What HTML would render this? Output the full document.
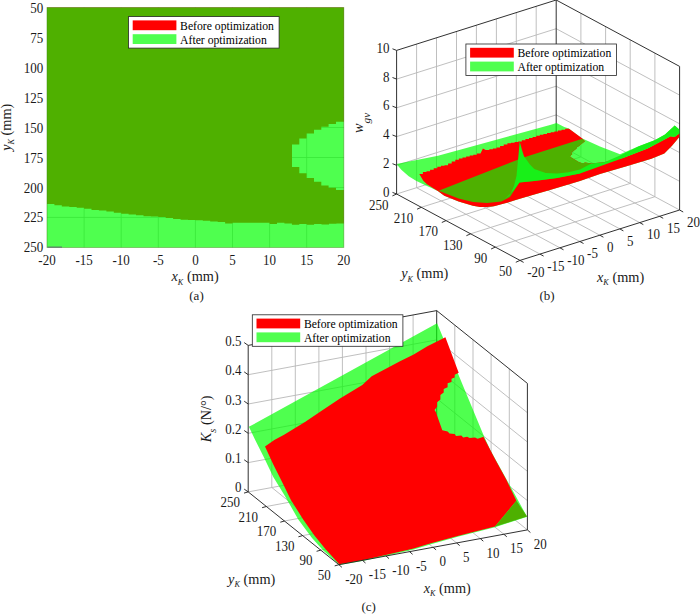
<!DOCTYPE html>
<html><head><meta charset="utf-8"><style>html,body{margin:0;padding:0;background:#fff;width:700px;height:614px;overflow:hidden}svg{display:block}</style></head>
<body><svg width="700" height="614" viewBox="0 0 700 614">
<rect width="700" height="614" fill="#fff"/>
<path d="M84.1,7.6V247.4M121.2,7.6V247.4M158.3,7.6V247.4M195.4,7.6V247.4M232.5,7.6V247.4M269.6,7.6V247.4M306.7,7.6V247.4M47.0,37.6H343.8M47.0,67.5H343.8M47.0,97.5H343.8M47.0,127.5H343.8M47.0,157.5H343.8M47.0,187.5H343.8M47.0,217.4H343.8" stroke="#b4b4b4" stroke-width="0.8" fill="none"/>
<polygon points="47.0,7.6 343.8,7.6 343.8,121.7 336.0,121.7 336.0,123.9 328.6,123.9 328.6,126.8 321.3,126.8 321.3,129.8 314.0,129.8 314.0,133.4 306.6,133.4 306.6,138.6 299.3,138.6 299.3,144.4 292.0,144.4 292.0,167.1 299.3,167.1 299.3,173.3 306.6,173.3 306.6,178.1 314.0,178.1 314.0,181.8 321.3,181.8 321.3,185.5 328.6,185.5 328.6,187.7 336.0,187.7 336.0,189.9 343.8,189.9 343.8,223.6 336.4,223.6 336.4,223.8 329.0,223.8 329.0,224.5 321.5,224.5 321.5,224.0 314.1,224.0 314.1,224.8 306.7,224.8 306.7,224.0 299.3,224.0 299.3,224.8 291.9,224.8 291.9,223.5 284.4,223.5 284.4,222.8 277.0,222.8 277.0,224.0 269.6,224.0 269.6,222.8 262.2,222.8 262.2,222.8 254.8,222.8 254.8,222.8 247.3,222.8 247.3,222.8 239.9,222.8 239.9,222.8 232.5,222.8 232.5,223.4 225.1,223.4 225.1,222.0 217.7,222.0 217.7,221.4 210.2,221.4 210.2,220.8 202.8,220.8 202.8,220.3 195.4,220.3 195.4,220.0 188.0,220.0 188.0,219.8 180.6,219.8 180.6,219.0 173.1,219.0 173.1,218.0 165.7,218.0 165.7,217.0 158.3,217.0 158.3,216.6 150.9,216.6 150.9,216.2 143.5,216.2 143.5,215.2 136.0,215.2 136.0,214.5 128.6,214.5 128.6,213.8 121.2,213.8 121.2,212.7 113.8,212.7 113.8,211.6 106.4,211.6 106.4,210.4 98.9,210.4 98.9,209.9 91.5,209.9 91.5,208.7 84.1,208.7 84.1,207.8 76.7,207.8 76.7,207.0 69.3,207.0 69.3,206.4 61.8,206.4 61.8,205.3 54.4,205.3 54.4,204.1 47.0,204.1" fill="#ff0000"/>
<rect x="47.0" y="7.6" width="296.8" height="239.8" fill="#00ff00" fill-opacity="0.69"/>
<rect x="47.0" y="7.6" width="296.8" height="239.8" fill="none" stroke="#3c8c14" stroke-opacity="0.6" stroke-width="0.8"/>
<path d="M47.5,247.1H62" stroke="#605878" stroke-width="0.9"/>
<text transform="translate(43.2,12.6) scale(1,1.08)" font-family="Liberation Serif" font-size="13" text-anchor="end" fill="#1a1a1a">50</text>
<text transform="translate(43.2,42.6) scale(1,1.08)" font-family="Liberation Serif" font-size="13" text-anchor="end" fill="#1a1a1a">75</text>
<text transform="translate(43.2,72.5) scale(1,1.08)" font-family="Liberation Serif" font-size="13" text-anchor="end" fill="#1a1a1a">100</text>
<text transform="translate(43.2,102.5) scale(1,1.08)" font-family="Liberation Serif" font-size="13" text-anchor="end" fill="#1a1a1a">125</text>
<text transform="translate(43.2,132.5) scale(1,1.08)" font-family="Liberation Serif" font-size="13" text-anchor="end" fill="#1a1a1a">150</text>
<text transform="translate(43.2,162.5) scale(1,1.08)" font-family="Liberation Serif" font-size="13" text-anchor="end" fill="#1a1a1a">175</text>
<text transform="translate(43.2,192.5) scale(1,1.08)" font-family="Liberation Serif" font-size="13" text-anchor="end" fill="#1a1a1a">200</text>
<text transform="translate(43.2,222.4) scale(1,1.08)" font-family="Liberation Serif" font-size="13" text-anchor="end" fill="#1a1a1a">225</text>
<text transform="translate(43.2,252.4) scale(1,1.08)" font-family="Liberation Serif" font-size="13" text-anchor="end" fill="#1a1a1a">250</text>
<text transform="translate(47.0,264.6) scale(1,1.08)" font-family="Liberation Serif" font-size="13" text-anchor="middle" fill="#1a1a1a">-20</text>
<text transform="translate(84.1,264.6) scale(1,1.08)" font-family="Liberation Serif" font-size="13" text-anchor="middle" fill="#1a1a1a">-15</text>
<text transform="translate(121.2,264.6) scale(1,1.08)" font-family="Liberation Serif" font-size="13" text-anchor="middle" fill="#1a1a1a">-10</text>
<text transform="translate(158.3,264.6) scale(1,1.08)" font-family="Liberation Serif" font-size="13" text-anchor="middle" fill="#1a1a1a">-5</text>
<text transform="translate(195.4,264.6) scale(1,1.08)" font-family="Liberation Serif" font-size="13" text-anchor="middle" fill="#1a1a1a">0</text>
<text transform="translate(232.5,264.6) scale(1,1.08)" font-family="Liberation Serif" font-size="13" text-anchor="middle" fill="#1a1a1a">5</text>
<text transform="translate(269.6,264.6) scale(1,1.08)" font-family="Liberation Serif" font-size="13" text-anchor="middle" fill="#1a1a1a">10</text>
<text transform="translate(306.7,264.6) scale(1,1.08)" font-family="Liberation Serif" font-size="13" text-anchor="middle" fill="#1a1a1a">15</text>
<text transform="translate(343.8,264.6) scale(1,1.08)" font-family="Liberation Serif" font-size="13" text-anchor="middle" fill="#1a1a1a">20</text>
<text transform="translate(171.5,281)" font-family="Liberation Serif" font-size="14.3" fill="#1a1a1a"><tspan font-style="italic">x</tspan><tspan font-style="italic" font-size="8.2" dy="3.6">K</tspan><tspan dy="-3.6"> (mm)</tspan></text>
<text transform="translate(10.8,150.8) rotate(-90)" font-family="Liberation Serif" font-size="14.3" fill="#1a1a1a"><tspan font-style="italic">y</tspan><tspan font-style="italic" font-size="8.2" dy="3.6">K</tspan><tspan dy="-3.6"> (mm)</tspan></text>
<text x="196.5" y="299.5" font-family="Liberation Serif" font-size="13" text-anchor="middle" fill="#1a1a1a">(a)</text>
<rect x="128.5" y="16.6" width="150.6" height="31.5" fill="#fff" stroke="#262626" stroke-width="0.8"/>
<rect x="132.7" y="20.4" width="43.7" height="9.8" fill="#ff0000"/>
<rect x="132.7" y="34.2" width="43.7" height="9.8" fill="#00ff00" fill-opacity="0.69"/>
<text x="180.1" y="30.0" font-family="Liberation Serif" font-size="11.7" fill="#000">Before optimization</text>
<text x="180.1" y="43.7" font-family="Liberation Serif" font-size="11.7" fill="#000">After optimization</text>
<path d="M416.6,187.7L540.0,254.1M416.6,187.7L416.6,44.1M436.5,181.4L559.9,247.8M436.5,181.4L436.5,37.8M456.5,175.1L579.9,241.5M456.5,175.1L456.5,31.5M476.4,168.8L599.8,235.2M476.4,168.8L476.4,25.2M496.4,162.5L619.8,228.9M496.4,162.5L496.4,18.9M516.3,156.2L639.7,222.6M516.3,156.2L516.3,12.6M536.2,149.9L659.6,216.3M536.2,149.9L536.2,6.3M495.3,247.1L654.9,196.7M654.9,196.7L654.9,53.1M470.6,233.8L630.2,183.4M630.2,183.4L630.2,39.8M446.0,220.6L605.6,170.2M605.6,170.2L605.6,26.6M421.3,207.3L580.9,156.9M580.9,156.9L580.9,13.3M396.6,194.0L556.2,143.6M556.2,143.6L679.6,210.0M396.6,165.3L556.2,114.9M556.2,114.9L679.6,181.3M396.6,136.6L556.2,86.2M556.2,86.2L679.6,152.6M396.6,107.8L556.2,57.4M556.2,57.4L679.6,123.8M396.6,79.1L556.2,28.7M556.2,28.7L679.6,95.1" stroke="#b8b8b8" stroke-width="0.9" fill="none"/>
<path d="M396.6,50.4L556.2,0.0L679.6,66.4M556.2,143.6L556.2,0.0M679.6,210.0L679.6,66.4" stroke="#262626" stroke-width="0.95" fill="none"/>
<rect x="465.9" y="44.0" width="150.6" height="31.5" fill="#fff" stroke="#262626" stroke-width="0.8"/>
<rect x="470.1" y="47.8" width="43.7" height="9.8" fill="#ff0000"/>
<rect x="470.1" y="61.6" width="43.7" height="9.8" fill="#00ff00" fill-opacity="0.69"/>
<text x="517.5" y="57.4" font-family="Liberation Serif" font-size="11.7" fill="#000">Before optimization</text>
<text x="517.5" y="71.1" font-family="Liberation Serif" font-size="11.7" fill="#000">After optimization</text>
<polygon points="396.5,164.0 438.0,155.8 470.0,147.0 550.0,125.0 556.5,123.0 564.3,126.9 568.7,128.4 581.3,138.0 600.0,146.5 620.0,154.3 638.2,146.5 655.2,140.0 665.0,134.5 674.7,125.6 679.3,129.5 679.3,137.0 676.0,141.0 672.0,145.8 664.3,153.6 651.4,158.7 625.7,166.4 600.0,174.1 580.0,181.0 550.0,190.0 530.0,195.7 515.7,200.0 508.0,202.4 501.4,204.3 494.0,206.3 487.1,207.1 480.0,206.9 472.9,205.7 458.6,201.4 444.3,195.7 438.2,191.2 432.0,188.3 424.8,185.1 416.0,180.7 408.7,176.3 401.3,169.7" fill="#00ff00" fill-opacity="0.69"/>
<polygon points="419.3,173.9 422.9,173.9 422.9,172.1 426.5,172.1 426.5,171.2 430.1,171.2 430.1,169.8 433.7,169.8 433.7,168.2 437.3,168.2 437.3,166.7 440.9,166.7 440.9,165.8 444.5,165.8 444.5,165.2 448.1,165.2 448.1,163.4 451.7,163.4 451.7,161.4 455.3,161.4 455.3,159.8 458.9,159.8 458.9,158.6 462.5,158.6 462.5,157.4 466.1,157.4 466.1,156.4 469.7,156.4 469.7,155.6 473.3,155.6 473.3,154.7 476.9,154.7 476.9,153.6 480.5,153.6 482.9,148.6 485.7,149.9 489.3,149.9 489.3,149.2 492.9,149.2 492.9,148.5 496.5,148.5 496.5,147.5 500.1,147.5 500.1,146.1 503.7,146.1 503.7,144.6 507.4,144.6 507.4,143.3 511.0,143.3 511.0,142.7 514.6,142.7 514.6,142.1 518.2,142.1 518.2,141.4 521.8,141.4 521.8,140.3 525.4,140.3 525.4,139.1 529.0,139.1 529.0,138.0 532.6,138.0 532.6,136.9 536.2,136.9 536.2,135.8 539.8,135.8 539.8,134.8 543.4,134.8 543.4,133.9 547.0,133.9 547.0,133.1 550.7,133.1 550.7,132.2 554.3,132.2 554.3,131.4 557.9,131.4 557.9,130.5 561.5,130.5 561.5,129.7 565.1,129.7 565.1,128.8 568.7,128.8 568.7,128.4 582.0,138.2 585.0,141.3 582.1,143.6 580.4,144.7 579.3,145.9 577.3,147.0 576.4,148.7 574.7,149.9 573.0,151.6 571.3,152.7 572.4,153.9 570.7,155.6 570.1,156.7 578.7,161.9 581.6,163.0 583.9,163.0 585.0,162.4 591.3,163.6 605.0,162.0 623.1,158.1 647.6,148.4 670.7,136.2 674.5,136.9 679.3,133.6 679.3,137.0 676.0,141.0 672.0,145.8 664.3,153.6 651.4,158.7 625.7,166.4 600.0,174.1 580.0,181.0 550.0,190.0 530.0,195.7 515.7,200.0 508.0,202.4 501.4,204.3 494.0,206.3 487.1,207.1 480.0,206.9 472.9,205.7 458.6,201.4 444.3,195.7 438.2,191.2 432.9,188.0 427.0,184.3 423.3,180.7" fill="#ff0000"/>
<polygon points="438.6,190.7 517.1,159.9 525.1,157.0 580.0,139.6 582.0,138.9 585.0,141.3 582.1,143.6 580.4,144.7 579.3,145.9 577.3,147.0 576.4,148.7 574.7,149.9 573.0,151.6 571.3,152.7 572.4,153.9 570.7,155.6 570.1,156.7 578.7,161.9 581.6,163.0 583.9,163.0 585.0,162.4 591.3,163.6 580.0,173.4 557.1,178.0 534.3,180.9 519.4,182.6 514.9,189.4 510.0,197.1 501.4,201.4 487.1,202.9 472.9,202.1 458.6,198.6" fill="#4eb000"/>
<polygon points="519.7,141.4 522.0,150.0 524.0,156.3 529.7,164.3 534.3,168.9 545.7,172.9 557.1,173.6 568.6,172.2 580.0,169.5 591.3,163.6 605.0,162.0 620.0,155.5 638.2,146.5 655.2,140.0 665.0,134.5 674.7,125.6 679.3,129.5 679.3,133.6 674.5,136.9 670.7,136.2 647.6,148.4 623.1,158.1 580.0,173.4 557.1,178.0 534.3,180.9 519.4,182.6 514.0,190.0 508.0,196.0 504.6,199.5 510.0,195.0 514.0,186.0 516.5,176.0 517.5,165.0 518.5,155.0" fill="#18f018"/>
<path d="M679.6,210.0L520.0,260.4L396.6,194.0L396.6,50.4" stroke="#262626" stroke-width="0.95" fill="none" stroke-linejoin="round"/>
<path d="M396.6,194.0l-4.1,-1.6M396.6,165.3l-4.1,-1.6M396.6,136.6l-4.1,-1.6M396.6,107.8l-4.1,-1.6M396.6,79.1l-4.1,-1.6M396.6,50.4l-4.1,-1.6M520.0,260.4l-4.2,1.9M495.3,247.1l-4.2,1.9M470.6,233.8l-4.2,1.9M446.0,220.6l-4.2,1.9M421.3,207.3l-4.2,1.9M396.6,194.0l-4.2,1.9M520.0,260.4l3.6,2.0M540.0,254.1l3.6,2.0M559.9,247.8l3.6,2.0M579.9,241.5l3.6,2.0M599.8,235.2l3.6,2.0M619.8,228.9l3.6,2.0M639.7,222.6l3.6,2.0M659.6,216.3l3.6,2.0M679.6,210.0l3.6,2.0" stroke="#262626" stroke-width="0.95" fill="none"/>
<text transform="translate(389.5,196.5) scale(1,1.08)" font-family="Liberation Serif" font-size="13" text-anchor="end" fill="#1a1a1a">0</text>
<text transform="translate(389.5,167.8) scale(1,1.08)" font-family="Liberation Serif" font-size="13" text-anchor="end" fill="#1a1a1a">2</text>
<text transform="translate(389.5,139.1) scale(1,1.08)" font-family="Liberation Serif" font-size="13" text-anchor="end" fill="#1a1a1a">4</text>
<text transform="translate(389.5,110.3) scale(1,1.08)" font-family="Liberation Serif" font-size="13" text-anchor="end" fill="#1a1a1a">6</text>
<text transform="translate(389.5,81.6) scale(1,1.08)" font-family="Liberation Serif" font-size="13" text-anchor="end" fill="#1a1a1a">8</text>
<text transform="translate(389.5,52.9) scale(1,1.08)" font-family="Liberation Serif" font-size="13" text-anchor="end" fill="#1a1a1a">10</text>
<text transform="translate(511.9,276.1) scale(1,1.08)" font-family="Liberation Serif" font-size="13" text-anchor="end" fill="#1a1a1a">50</text>
<text transform="translate(487.2,262.8) scale(1,1.08)" font-family="Liberation Serif" font-size="13" text-anchor="end" fill="#1a1a1a">90</text>
<text transform="translate(462.5,249.5) scale(1,1.08)" font-family="Liberation Serif" font-size="13" text-anchor="end" fill="#1a1a1a">130</text>
<text transform="translate(437.9,236.3) scale(1,1.08)" font-family="Liberation Serif" font-size="13" text-anchor="end" fill="#1a1a1a">170</text>
<text transform="translate(413.2,223.0) scale(1,1.08)" font-family="Liberation Serif" font-size="13" text-anchor="end" fill="#1a1a1a">210</text>
<text transform="translate(388.5,209.7) scale(1,1.08)" font-family="Liberation Serif" font-size="13" text-anchor="end" fill="#1a1a1a">250</text>
<text transform="translate(527.3,277.1) scale(1,1.08)" font-family="Liberation Serif" font-size="13" fill="#1a1a1a">-20</text>
<text transform="translate(547.2,270.8) scale(1,1.08)" font-family="Liberation Serif" font-size="13" fill="#1a1a1a">-15</text>
<text transform="translate(567.2,264.5) scale(1,1.08)" font-family="Liberation Serif" font-size="13" fill="#1a1a1a">-10</text>
<text transform="translate(587.1,258.2) scale(1,1.08)" font-family="Liberation Serif" font-size="13" fill="#1a1a1a">-5</text>
<text transform="translate(607.1,251.9) scale(1,1.08)" font-family="Liberation Serif" font-size="13" fill="#1a1a1a">0</text>
<text transform="translate(627.0,245.6) scale(1,1.08)" font-family="Liberation Serif" font-size="13" fill="#1a1a1a">5</text>
<text transform="translate(647.0,239.3) scale(1,1.08)" font-family="Liberation Serif" font-size="13" fill="#1a1a1a">10</text>
<text transform="translate(666.9,233.0) scale(1,1.08)" font-family="Liberation Serif" font-size="13" fill="#1a1a1a">15</text>
<text transform="translate(686.9,226.7) scale(1,1.08)" font-family="Liberation Serif" font-size="13" fill="#1a1a1a">20</text>
<text transform="translate(401.2,278.2)" font-family="Liberation Serif" font-size="14.3" fill="#1a1a1a"><tspan font-style="italic">y</tspan><tspan font-style="italic" font-size="8.2" dy="3.6">K</tspan><tspan dy="-3.6"> (mm)</tspan></text>
<text transform="translate(597,281.5)" font-family="Liberation Serif" font-size="14.3" fill="#1a1a1a"><tspan font-style="italic">x</tspan><tspan font-style="italic" font-size="8.2" dy="3.6">K</tspan><tspan dy="-3.6"> (mm)</tspan></text>
<text transform="translate(363,133) rotate(-90)" font-family="Liberation Serif" font-size="14.3" fill="#1a1a1a"><tspan font-style="italic">w</tspan><tspan font-style="italic" font-size="11.3" dy="7.2">gv</tspan></text>
<text x="547" y="299.5" font-family="Liberation Serif" font-size="13" text-anchor="middle" fill="#1a1a1a">(b)</text>
<path d="M271.8,487.5L362.5,560.4M271.8,487.5L271.8,341.0M295.3,483.2L386.0,556.0M295.3,483.2L295.3,336.7M318.9,478.8L409.6,551.7M318.9,478.8L318.9,332.3M342.4,474.5L433.1,547.3M342.4,474.5L342.4,328.0M366.0,470.1L456.7,543.0M366.0,470.1L366.0,323.6M389.6,465.8L480.3,538.6M389.6,465.8L389.6,319.3M413.1,461.4L503.8,534.2M413.1,461.4L413.1,314.9M320.8,550.1L509.3,515.3M509.3,515.3L509.3,368.8M302.6,535.6L491.1,500.8M491.1,500.8L491.1,354.3M284.5,521.0L473.0,486.2M473.0,486.2L473.0,339.7M266.3,506.5L454.8,471.7M454.8,471.7L454.8,325.2M248.2,491.9L436.7,457.1M436.7,457.1L527.4,529.9M248.2,462.6L436.7,427.8M436.7,427.8L527.4,500.6M248.2,433.3L436.7,398.5M436.7,398.5L527.4,471.3M248.2,404.0L436.7,369.2M436.7,369.2L527.4,442.0M248.2,374.7L436.7,339.9M436.7,339.9L527.4,412.7" stroke="#b8b8b8" stroke-width="0.9" fill="none"/>
<path d="M248.2,345.4L436.7,310.6L527.4,383.4M436.7,457.1L436.7,310.6M527.4,529.9L527.4,383.4" stroke="#262626" stroke-width="0.95" fill="none"/>
<polygon points="248.9,426.8 437.1,323.2 484.5,437.4 490.3,449.9 527.1,516.8 495.0,527.2 458.6,536.5 430.0,544.4 413.6,549.4 392.1,554.4 363.6,560.8 339.3,565.1 322.8,550.0 311.8,537.8 298.3,519.4 284.3,495.0 273.3,477.1 263.5,456.6 255.2,440.0" fill="#00ff00" fill-opacity="0.69"/>
<polygon points="265.0,446.6 274.3,440.0 284.1,434.7 293.9,428.8 305.0,422.0 322.0,410.5 340.0,398.6 362.3,384.9 371.7,376.3 400.0,361.2 413.7,354.6 427.4,346.2 445.4,337.2 458.7,372.8 454.7,374.8 454.7,377.4 451.5,378.7 451.5,382.0 447.6,383.3 447.6,387.2 443.7,389.1 443.7,392.4 440.4,395.0 440.4,399.6 437.1,402.2 437.1,406.7 434.5,410.0 435.8,412.0 442.3,430.2 447.6,431.5 449.5,433.5 454.7,434.1 456.0,436.1 461.3,435.4 463.2,437.4 467.1,436.7 469.7,438.0 475.0,437.4 477.6,438.7 481.5,437.4 483.4,436.7 495.8,460.4 506.5,480.1 516.4,500.7 495.0,526.4 458.6,535.7 430.0,543.6 413.6,548.6 392.1,553.6 363.6,560.0 339.3,564.3 325.2,548.8 314.2,535.3 303.2,519.4 290.9,500.0 283.1,483.9 273.3,464.4" fill="#ff0000"/>
<polygon points="516.4,500.7 527.1,516.6 495.0,526.6" fill="#4eb000"/>
<path d="M527.4,529.9L338.9,564.7L248.2,491.9L248.2,345.4" stroke="#262626" stroke-width="0.95" fill="none" stroke-linejoin="round"/>
<path d="M248.2,491.9l-4.0,-2.8M248.2,462.6l-4.0,-2.8M248.2,433.3l-4.0,-2.8M248.2,404.0l-4.0,-2.8M248.2,374.7l-4.0,-2.8M248.2,345.4l-4.0,-2.8M338.9,564.7l-4.2,1.2M320.8,550.1l-4.2,1.2M302.6,535.6l-4.2,1.2M284.5,521.0l-4.2,1.2M266.3,506.5l-4.2,1.2M248.2,491.9l-4.2,1.2M338.9,564.7l3.0,2.6M362.5,560.4l3.0,2.6M386.0,556.0l3.0,2.6M409.6,551.7l3.0,2.6M433.1,547.3l3.0,2.6M456.7,543.0l3.0,2.6M480.3,538.6l3.0,2.6M503.8,534.2l3.0,2.6M527.4,529.9l3.0,2.6" stroke="#262626" stroke-width="0.95" fill="none"/>
<text transform="translate(241.4,492.4) scale(1,1.08)" font-family="Liberation Serif" font-size="13" text-anchor="end" fill="#1a1a1a">0</text>
<text transform="translate(241.4,463.1) scale(1,1.08)" font-family="Liberation Serif" font-size="13" text-anchor="end" fill="#1a1a1a">0.1</text>
<text transform="translate(241.4,433.8) scale(1,1.08)" font-family="Liberation Serif" font-size="13" text-anchor="end" fill="#1a1a1a">0.2</text>
<text transform="translate(241.4,404.5) scale(1,1.08)" font-family="Liberation Serif" font-size="13" text-anchor="end" fill="#1a1a1a">0.3</text>
<text transform="translate(241.4,375.2) scale(1,1.08)" font-family="Liberation Serif" font-size="13" text-anchor="end" fill="#1a1a1a">0.4</text>
<text transform="translate(241.4,345.9) scale(1,1.08)" font-family="Liberation Serif" font-size="13" text-anchor="end" fill="#1a1a1a">0.5</text>
<text transform="translate(330.7,579.7) scale(1,1.08)" font-family="Liberation Serif" font-size="13" text-anchor="end" fill="#1a1a1a">50</text>
<text transform="translate(312.6,565.1) scale(1,1.08)" font-family="Liberation Serif" font-size="13" text-anchor="end" fill="#1a1a1a">90</text>
<text transform="translate(294.4,550.6) scale(1,1.08)" font-family="Liberation Serif" font-size="13" text-anchor="end" fill="#1a1a1a">130</text>
<text transform="translate(276.3,536.0) scale(1,1.08)" font-family="Liberation Serif" font-size="13" text-anchor="end" fill="#1a1a1a">170</text>
<text transform="translate(258.1,521.5) scale(1,1.08)" font-family="Liberation Serif" font-size="13" text-anchor="end" fill="#1a1a1a">210</text>
<text transform="translate(240.0,506.9) scale(1,1.08)" font-family="Liberation Serif" font-size="13" text-anchor="end" fill="#1a1a1a">250</text>
<text transform="translate(345.2,583.7) scale(1,1.08)" font-family="Liberation Serif" font-size="13" fill="#1a1a1a">-20</text>
<text transform="translate(368.8,579.4) scale(1,1.08)" font-family="Liberation Serif" font-size="13" fill="#1a1a1a">-15</text>
<text transform="translate(392.3,575.0) scale(1,1.08)" font-family="Liberation Serif" font-size="13" fill="#1a1a1a">-10</text>
<text transform="translate(415.9,570.7) scale(1,1.08)" font-family="Liberation Serif" font-size="13" fill="#1a1a1a">-5</text>
<text transform="translate(439.4,566.3) scale(1,1.08)" font-family="Liberation Serif" font-size="13" fill="#1a1a1a">0</text>
<text transform="translate(463.0,562.0) scale(1,1.08)" font-family="Liberation Serif" font-size="13" fill="#1a1a1a">5</text>
<text transform="translate(486.6,557.6) scale(1,1.08)" font-family="Liberation Serif" font-size="13" fill="#1a1a1a">10</text>
<text transform="translate(510.1,553.2) scale(1,1.08)" font-family="Liberation Serif" font-size="13" fill="#1a1a1a">15</text>
<text transform="translate(533.7,548.9) scale(1,1.08)" font-family="Liberation Serif" font-size="13" fill="#1a1a1a">20</text>
<text transform="translate(228.1,583.5)" font-family="Liberation Serif" font-size="14.3" fill="#1a1a1a"><tspan font-style="italic">y</tspan><tspan font-style="italic" font-size="8.2" dy="3.6">K</tspan><tspan dy="-3.6"> (mm)</tspan></text>
<text transform="translate(423.7,592.5)" font-family="Liberation Serif" font-size="14.3" fill="#1a1a1a"><tspan font-style="italic">x</tspan><tspan font-style="italic" font-size="8.2" dy="3.6">K</tspan><tspan dy="-3.6"> (mm)</tspan></text>
<text transform="translate(211.1,442.3) rotate(-90)" font-family="Liberation Serif" font-size="14.3" fill="#1a1a1a"><tspan font-style="italic">K</tspan><tspan font-style="italic" font-size="10.5" dy="4.5">s</tspan><tspan dy="-4.5"> (N/°)</tspan></text>
<text x="368.6" y="610.5" font-family="Liberation Serif" font-size="13" text-anchor="middle" fill="#1a1a1a">(c)</text>
<rect x="252.3" y="314.8" width="150.6" height="31.5" fill="#fff" stroke="#262626" stroke-width="0.8"/>
<rect x="256.5" y="318.6" width="43.7" height="9.8" fill="#ff0000"/>
<rect x="256.5" y="332.4" width="43.7" height="9.8" fill="#00ff00" fill-opacity="0.69"/>
<text x="303.9" y="328.2" font-family="Liberation Serif" font-size="11.7" fill="#000">Before optimization</text>
<text x="303.9" y="341.9" font-family="Liberation Serif" font-size="11.7" fill="#000">After optimization</text>
</svg></body></html>
